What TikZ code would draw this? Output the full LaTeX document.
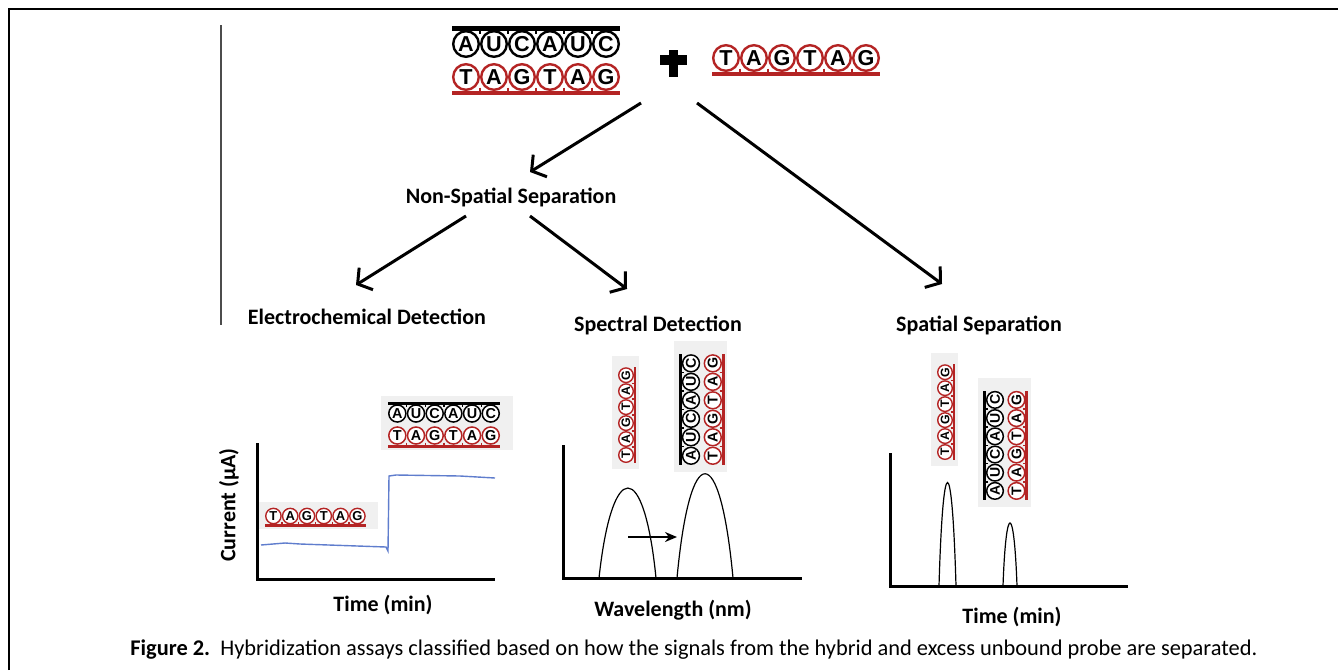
\documentclass[tikz,border=0pt]{standalone}
\usepackage{fontspec}
\setmainfont{Carlito}
\newfontfamily\basefont{Liberation Sans}
\usetikzlibrary{arrows.meta,calc}
\definecolor{probered}{RGB}{180,36,36}
\definecolor{traceblue}{RGB}{95,125,205}
\definecolor{boxgray}{RGB}{240,240,240}
\tikzstyle{lbl} = [font=\bfseries\fontsize{11}{13}\selectfont, inner sep=1pt]
\tikzstyle{arrow} = [line width=1.5pt,-{Straight Barb[length=5pt,width=13pt]}]
\tikzstyle{axis} = [line width=1.5pt]
\tikzstyle{peak} = [line width=0.6pt]
\tikzstyle{base} = [transform shape, inner sep=0pt, font=\basefont\bfseries\fontsize{10.8}{10.8}\selectfont]
\def\circrad{12.8}
% one row of bases with its backbone (#3: 1 below, -1 above)
\newcommand{\bases}[3]{%
  \foreach \b [count=\i from 0] in {#1} {
    \draw[#2, fill=white] (14+28*\i,0) circle [radius=\circrad];
    \node[base] at (14+28*\i,0) {\b};
  }
  \foreach \i in {1,...,5}
    \draw[#2] (28*\i,#3*10.5) -- (28*\i,#3*14);
  \fill[#2] (0,#3*13.5) rectangle (168,#3*18);
}
\newcommand{\probe}[2]{%
  \begin{scope}[#1]
    \fill[#2] (-10,-24) rectangle (188,22);
    \bases{T,A,G,T,A,G}{probered}{1}
  \end{scope}}
\newcommand{\hybrid}[2]{%
  \begin{scope}[#1]
    \fill[#2] (-10,-26) rectangle (188,55);
    \bases{A,U,C,A,U,C}{black}{-1}
    \begin{scope}[shift={(0,33)}]
      \bases{T,A,G,T,A,G}{probered}{1}
    \end{scope}
  \end{scope}}

\begin{document}
\begin{tikzpicture}[x=0.5pt,y=-0.5pt]
\useasboundingbox (0,0) rectangle (1338,670);

\draw[line width=1pt] (9,670) -- (9,9) -- (1338,9);
\draw[black!70, line width=0.6pt] (221,25) -- (221,325);

% reactants
\hybrid{shift={(452,44)}, line width=1.2pt}{white}
\fill (669,50) rectangle (678,77);
\fill (660,55) rectangle (687,65);
\probe{shift={(712,58)}, line width=1.2pt}{white}

% classification
\node[lbl] (nonsp) at (511,197) {Non-Spatial Separation};
\node[lbl] (echem) at (367,317) {Electrochemical Detection};
\node[lbl] (spec) at (658,325) {Spectral Detection};
\node[lbl] (spat) at (979,325) {Spatial Separation};

\coordinate (s1) at (641,103);
\coordinate (e1) at (530,172);
\coordinate (s2) at (697,103);
\coordinate (e2) at (942,284);
\coordinate (s3) at (466,216);
\coordinate (e3) at (356,285);
\coordinate (s4) at (530,216);
\coordinate (e4) at (627,289);
\draw[arrow] (s1) -- (e1);
\draw[arrow] (s2) -- (e2);
\draw[arrow] (s3) -- (e3);
\draw[arrow] (s4) -- (e4);

% electrochemical
\draw[axis] (257,443) -- (257,579) -- (495,579);
\draw[traceblue, line width=0.7pt] (261,545) -- (285,543) -- (300,544) -- (386,547)
  -- (388,551) -- (389,476) -- (396,475) -- (460,476) -- (495,478);
\probe{shift={(265,516)}, scale=0.6, line width=0.7pt}{boxgray}
\hybrid{shift={(388,413.5)}, scale=0.667, line width=0.75pt}{boxgray}
\node[lbl, rotate=90] (cur) at (229,505) {Current (µA)};
\node[lbl] (t1) at (383,605) {Time (min)};

% spectral
\draw[axis] (563,445) -- (563,578) -- (802,578);
\draw[peak] (599,578) .. controls (612,458) and (644,458) .. (656,578);
\draw[peak] (677,578) .. controls (690,439) and (720,439) .. (733,578);
\coordinate (sh1) at (628,537);
\coordinate (sh2) at (677,537);
\draw[line width=1pt,-{Stealth[length=6pt,width=5pt]}] (sh1) -- (sh2);
\probe{shift={(626,463)}, rotate=90, scale=0.57, line width=0.7pt}{boxgray}
\hybrid{shift={(691,465)}, rotate=90, scale=0.66, line width=0.75pt}{boxgray}
\node[lbl] (wl) at (673,610) {Wavelength (nm)};

% spatial
\draw[axis] (890,453) -- (890,586) -- (1128,586);
\draw[peak] (939,586) .. controls (943,448) and (952,448) .. (956,586);
\draw[peak] (1003,586) .. controls (1006,502) and (1014,502) .. (1017,586);
\probe{shift={(945,460)}, rotate=90, scale=0.57, line width=0.7pt}{boxgray}
\hybrid{shift={(995,500)}, rotate=90, scale=0.65, line width=0.75pt}{boxgray}
\node[lbl] (t2) at (1012,617) {Time (min)};

\node[anchor=base west, inner sep=0pt, font=\fontsize{11.2}{13}\selectfont] (cap) at (130,655)
  {\textbf{Figure 2.}\ \ Hybridization assays classified based on how the signals from the hybrid and excess unbound probe are separated.};
\end{tikzpicture}
\end{document}
